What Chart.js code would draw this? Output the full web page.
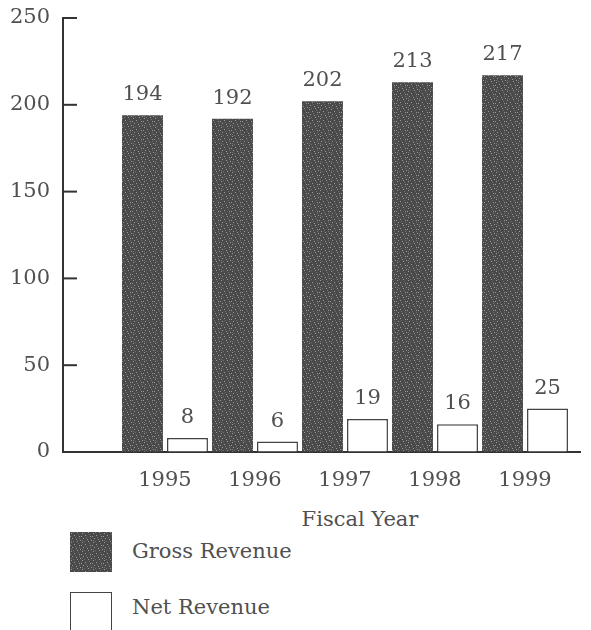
<!DOCTYPE html>
<html>
<head>
<meta charset="utf-8">
<script src="https://cdn.jsdelivr.net/npm/chart.js@4/dist/chart.umd.min.js"></script>
<style>
  body { margin: 0; background: #fff; font-family: "DejaVu Serif", serif; color: #505050; }
  #wrap { position: relative; width: 591px; height: 630px; overflow: hidden; }
  #box { position: absolute; left: 0; top: 0; width: 591px; height: 500px; }
  .txt { position: absolute; font-size: 21px; line-height: 26px; white-space: nowrap; }
  .swatch { position: absolute; width: 42px; height: 40px; box-sizing: border-box; }
</style>
</head>
<body>
<div id="wrap">
  <div id="box"><canvas id="revenue"></canvas></div>
  <div class="txt" id="xTitle" style="left:260px; top:506px; width:200px; text-align:center;"></div>
  <div class="swatch" id="grossSwatch" style="left:70px; top:532px;"></div>
  <div class="txt" id="grossLabel" style="left:132px; top:538px;"></div>
  <div class="swatch" style="left:70px; top:592px; border:1.5px solid #444; border-bottom:none; background:#fff;"></div>
  <div class="txt" id="netLabel" style="left:132px; top:594px;"></div>
</div>
<script>
var years = [1995, 1996, 1997, 1998, 1999];
var grossRevenue = [194, 192, 202, 213, 217];
var netRevenue = [8, 6, 19, 16, 25];
var seriesNames = ["Gross Revenue", "Net Revenue"];
var axisTitle = "Fiscal Year";

var textColor = "#505050";
var font = { family: "DejaVu Serif", size: 21 };

// speckled grey fill like the printed bars
function makeSpeckle() {
    var pc = document.createElement('canvas');
    pc.width = 11; pc.height = 9;
    var c = pc.getContext('2d');
    c.fillStyle = "#4a4a4a";
    c.fillRect(0, 0, 11, 9);
    c.fillStyle = "#9a9a9a";
    [[1, 1], [7, 0], [4, 3], [9, 4], [2, 6], [6, 7], [10, 8], [0, 4]].forEach(function (p) {
        c.fillRect(p[0], p[1], 1, 1);
    });
    c.fillStyle = "#6e6e6e";
    [[3, 0], [8, 2], [5, 5], [1, 8], [9, 6]].forEach(function (p) {
        c.fillRect(p[0], p[1], 1, 1);
    });
    return pc;
}
var speckle = makeSpeckle();
var ctx = document.getElementById("revenue").getContext('2d');
var grossFill = ctx.createPattern(speckle, 'repeat');

document.getElementById("grossSwatch").style.backgroundImage = "url(" + speckle.toDataURL() + ")";
document.getElementById("grossLabel").textContent = seriesNames[0];
document.getElementById("netLabel").textContent = seriesNames[1];
document.getElementById("xTitle").textContent = axisTitle;

function points(vals) {
    return vals.map(function (v, i) { return { x: years[i], y: v }; });
}

var valueLabels = {
    id: 'valueLabels',
    afterDatasetsDraw: function (chart) {
        var c = chart.ctx;
        c.save();
        c.font = font.size + "px " + font.family;
        c.fillStyle = textColor;
        c.textAlign = 'center';
        c.textBaseline = 'alphabetic';
        chart.data.datasets.forEach(function (ds, di) {
            chart.getDatasetMeta(di).data.forEach(function (bar, i) {
                c.fillText(String(ds.data[i].y), bar.x, bar.y - 15);
            });
        });
        c.restore();
    }
};

// tick marks point inward from the y axis
var innerTicks = {
    id: 'innerTicks',
    afterDraw: function (chart) {
        var c = chart.ctx;
        var y = chart.scales.y;
        var left = chart.chartArea.left;
        c.save();
        c.strokeStyle = "#333";
        c.lineWidth = 2;
        y.ticks.forEach(function (t) {
            var py = y.getPixelForValue(t.value);
            c.beginPath();
            c.moveTo(left, py);
            c.lineTo(left + 14, py);
            c.stroke();
        });
        c.restore();
    }
};

new Chart(ctx, {
    type: 'bar',
    data: {
        datasets: [{
            label: seriesNames[0],
            data: points(grossRevenue),
            backgroundColor: grossFill,
            borderWidth: 0
        }, {
            label: seriesNames[1],
            data: points(netRevenue),
            backgroundColor: "#ffffff",
            borderColor: "#444",
            borderWidth: 1.5
        }]
    },
    options: {
        responsive: true,
        maintainAspectRatio: false,
        animation: false,
        categoryPercentage: 1.0,
        barPercentage: 0.91,
        layout: { padding: { top: 18, right: 11, bottom: 0, left: 0 } },
        plugins: {
            legend: { display: false },
            tooltip: { enabled: false }
        },
        scales: {
            x: {
                type: 'linear',
                bounds: 'data',
                offset: false,
                min: 1993.867,
                max: 1999.611,
                grid: { display: true, drawOnChartArea: false, drawTicks: false, offset: false },
                border: { display: true, color: "#333", width: 2 },
                afterBuildTicks: function (s) {
                    s.ticks = years.map(function (yr) { return { value: yr }; });
                },
                afterFit: function (s) { s.height = 48; s.paddingLeft = 0; s.paddingRight = 0; },
                ticks: {
                    autoSkip: false,
                    maxRotation: 0,
                    padding: 16,
                    color: textColor,
                    font: font,
                    callback: function (v) { return String(v); }
                }
            },
            y: {
                min: 0,
                max: 250,
                grid: { display: true, drawOnChartArea: false, drawTicks: false },
                border: { display: true, color: "#333", width: 2 },
                afterFit: function (s) { s.width = 63; s.paddingTop = 0; s.paddingBottom = 0; },
                ticks: {
                    stepSize: 50,
                    padding: 13,
                    color: textColor,
                    font: font
                }
            }
        }
    },
    plugins: [valueLabels, innerTicks]
});
</script>
</body>
</html>
